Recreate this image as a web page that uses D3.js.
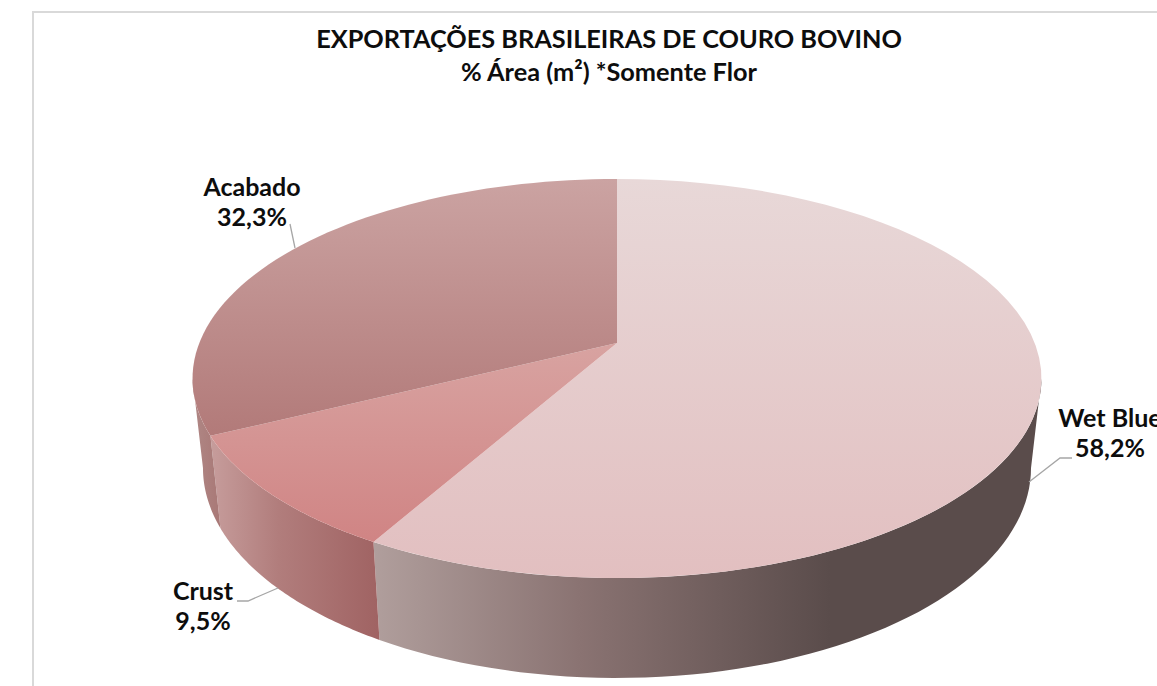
<!DOCTYPE html>
<html>
<head>
<meta charset="utf-8">
<script src="https://cdn.jsdelivr.net/npm/d3@7"></script>
<style>
	html, body { margin: 0; padding: 0; background: #fff; overflow: hidden; }
	svg { display: block; font-family: Lato, sans-serif; }
	text { font-weight: 700; fill: #0d0d0d; }
</style>
</head>
<body>
<div id="chart"></div>
<script>

const categories = ['Wet Blue', 'Crust', 'Acabado']
const shares = [58.2, 9.5, 32.3]
const titleLines = ['EXPORTAÇÕES BRASILEIRAS DE COURO BOVINO', '% Área (m²) *Somente Flor']

const width = 1157
const height = 686

// perspective of the disc: k is how much closer the front edge gets
const k = 0.178
const topRim = {cx: 617, cy: 343, a: 417.7, b: 193.2}
const lowRim = {cx: 617, cy: 430.5, a: 407.4, b: 203.4}

// angles where the wall disappears behind the disc, left and right
const wallStart = Math.acos(-k)
const wallEnd = 2 * Math.PI - wallStart

const project = (rim, angle, r = 1) => {
	let u = Math.sin(angle) * r
	let v = -Math.cos(angle) * r
	let w = 1 - k * v
	return [rim.cx + rim.a * u / w, rim.cy + rim.b * v / w]
}

const svg = d3.select('#chart')
.append('svg')
.attr('width', width)
.attr('height', height)

const defs = svg.append('defs')

const gradient = (id, [x1, y1, x2, y2], stops) => {
	defs.append('linearGradient')
	.attr('id', id)
	.attr('gradientUnits', 'userSpaceOnUse')
	.attr('x1', x1).attr('y1', y1)
	.attr('x2', x2).attr('y2', y2)
	.selectAll('stop')
	.data(stops)
	.enter()
	.append('stop')
	.attr('offset', d => d[0])
	.attr('stop-color', d => d[1])
}

const topStyles = [
	{vector: [0, 179, 0, 578], stops: [[0, '#e8d8d8'], [1, '#e2bfc0']]},
	{vector: [0, 343, 0, 542], stops: [[0, '#d8a3a1'], [1, '#d08484']]},
	{vector: [0, 179, 0, 436], stops: [[0, '#cba3a2'], [1, '#b27a79']]}
]

const wallStyles = [
	{vector: [375, 0, 830, 0], stops: [[0, '#b09e9c'], [0.45, '#8a7372'], [1, '#5a4c4b']]},
	{vector: [212, 0, 378, 0], stops: [[0, '#c69c9b'], [0.4, '#b17d7c'], [1, '#a06363']]},
	{vector: [192, 0, 222, 0], stops: [[0, '#b08886'], [1, '#a87775']]}
]

topStyles.forEach((s, i) => gradient('top' + i, s.vector, s.stops))
wallStyles.forEach((s, i) => gradient('wall' + i, s.vector, s.stops))

const slices = d3.pie().sort(null)(shares)

const sample = (from, to) => d3.range(0, 61).map(i => from + (to - from) * i / 60)
const line = d3.line()

// frame, only top and left are inside the crop
svg.append('path')
.attr('d', line([[33, height], [33, 12], [width, 12]]))
.attr('fill', 'none')
.attr('stroke', '#d9d9d9')
.attr('stroke-width', 2)

// walls first, the disc covers whatever is hidden
svg.append('g')
.selectAll('path')
.data(slices)
.enter()
.append('path')
.attr('d', d => {
	let from = Math.max(d.startAngle, wallStart)
	let to = Math.min(d.endAngle, wallEnd)
	let angles = sample(from, to)
	let upper = angles.map(a => project(topRim, a))
	let lower = angles.reverse().map(a => project(lowRim, a))
	return line(upper.concat(lower)) + 'Z'
})
.attr('fill', (d, i) => `url(#wall${i})`)

svg.append('g')
.selectAll('path')
.data(slices)
.enter()
.append('path')
.attr('d', d => {
	let rim = sample(d.startAngle, d.endAngle).map(a => project(topRim, a))
	return line([[topRim.cx, topRim.cy]].concat(rim)) + 'Z'
})
.attr('fill', (d, i) => `url(#top${i})`)

const title = svg.append('g')
.attr('text-anchor', 'middle')
.style('font-size', '25.3px')

title.selectAll('text')
.data(titleLines)
.enter()
.append('text')
.attr('x', 609)
.attr('y', (d, i) => 48 + i * 33)
.text(d => d)

// label boxes and leader lines as placed in the original
const labelSpots = [
	{x: 1110, y: 427, leader: [[1072, 458], [1060, 458], [1029, 482]]},
	{x: 203, y: 600, leader: [[237, 601], [248, 601], [278, 588]]},
	{x: 252, y: 196, leader: [[290, 224], [295, 248]]}
]

svg.append('g')
.selectAll('path')
.data(labelSpots)
.enter()
.append('path')
.attr('d', d => line(d.leader))
.attr('fill', 'none')
.attr('stroke', '#a6a6a6')
.attr('stroke-width', 1.3)

const labels = svg.append('g')
.selectAll('text')
.data(categories)
.enter()
.append('text')
.attr('text-anchor', 'middle')
.style('font-size', '25px')

labels.append('tspan')
.attr('x', (d, i) => labelSpots[i].x)
.attr('y', (d, i) => labelSpots[i].y)
.text(d => d)

labels.append('tspan')
.attr('x', (d, i) => labelSpots[i].x)
.attr('y', (d, i) => labelSpots[i].y + 30)
.text((d, i) => shares[i].toFixed(1).replace('.', ',') + '%')

</script>
</body>
</html>
